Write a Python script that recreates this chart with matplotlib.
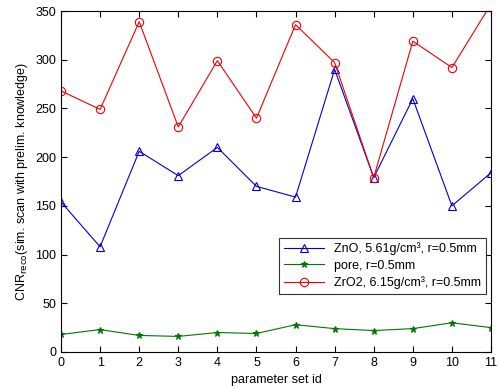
import matplotlib
matplotlib.use("Agg")
import matplotlib.pyplot as plt
import numpy as np

plt.rcParams['font.family'] = ['Liberation Sans', 'DejaVu Sans']

param_id = list(range(12))
zno = [154, 108, 206, 181, 210, 170, 159, 290, 179, 260, 150, 184]
pore = [18, 23, 17, 16, 20, 19, 28, 24, 22, 24, 30, 25]
zro2 = [268, 249, 339, 231, 299, 240, 336, 297, 179, 319, 292, 357]

fig = plt.figure(figsize=(4.99, 3.89), dpi=100)
ax = fig.add_axes([61/499, 1 - 352/389, 430/499, 341/389])

ax.plot(param_id, zno, color='#0000cc', lw=0.8, marker='^', mfc='none', ms=6, mew=0.8,
        label='ZnO, 5.61g/cm³, r=0.5mm')
ax.plot(param_id, pore, color='#007700', lw=0.8, marker='*', ms=4.5, mew=0.8,
        label='pore, r=0.5mm')
ax.plot(param_id, zro2, color='#ee0000', lw=0.8, marker='o', mfc='none', ms=6, mew=0.8,
        label='ZrO2, 6.15g/cm³, r=0.5mm')

ax.set_xlim(0, 11)
ax.set_ylim(0, 350)
ax.set_xticks(range(0, 12))
ax.set_yticks(range(0, 351, 50))
ax.tick_params(direction='in', labelsize=9, length=4, top=True, right=True)
ax.set_xlabel('parameter set id', fontsize=9)
ax.set_ylabel('CNR$_{\\mathrm{reco}}$(sim. scan with prelim. knowledge)', fontsize=9)

leg = ax.legend(loc='lower right', bbox_to_anchor=(1.002, 0.152), fontsize=9,
                frameon=True, fancybox=False, edgecolor='black', borderpad=0.4,
                handlelength=3.2, labelspacing=0.35)
leg.get_frame().set_linewidth(0.8)

fig.savefig('out.png', dpi=100)
